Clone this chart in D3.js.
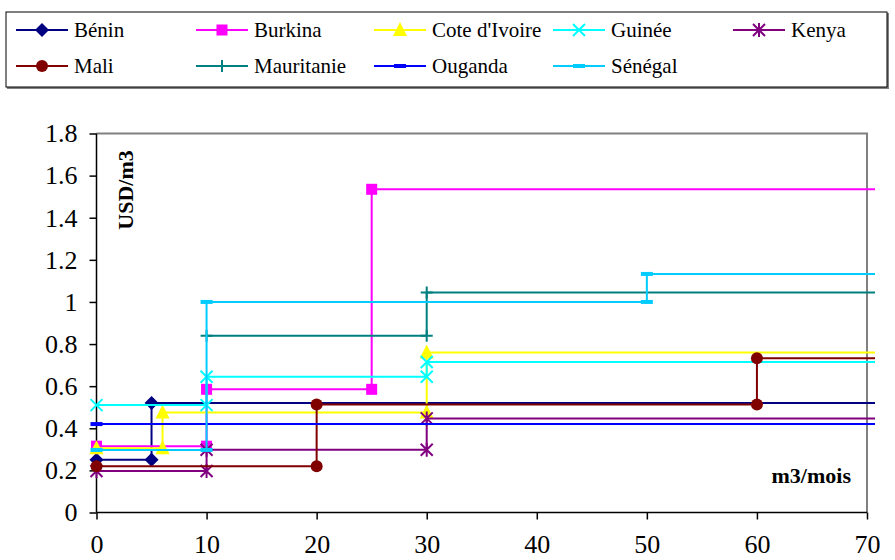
<!DOCTYPE html>
<html><head><meta charset="utf-8">
<script src="https://cdn.jsdelivr.net/npm/d3@7"></script>
<style>
html,body{margin:0;padding:0;background:#fff;}
svg text{font-family:"Liberation Serif","Times New Roman","DejaVu Serif",serif;}
</style></head>
<body>
<svg id="chart" width="895" height="560"></svg>
<script>
// ---- data ----
const countries = ["Bénin","Burkina","Cote d'Ivoire","Guinée","Kenya","Mali","Mauritanie","Ouganda","Sénégal"];
const benin      = [[0,0.25],[5,0.25],[5,0.52],[80,0.52]];
const burkina    = [[0,0.315],[10,0.315],[10,0.585],[25,0.585],[25,1.535],[80,1.535]];
const coteIvoire = [[0,0.305],[6,0.305],[6,0.475],[30,0.475],[30,0.76],[80,0.76]];
const guinee     = [[0,0.51],[10,0.51],[10,0.645],[30,0.645],[30,0.715],[80,0.715]];
const kenya      = [[0,0.197],[10,0.197],[10,0.298],[30,0.298],[30,0.447],[80,0.447]];
const mali       = [[0,0.22],[20,0.22],[20,0.513],[60,0.513],[60,0.733],[80,0.733]];
const mauritanie = [[10,0.84],[30,0.84],[30,1.045],[80,1.045]];
const ouganda    = [[0,0.42],[80,0.42]];
const senegal    = [[0,0.297],[10,0.297],[10,1.0],[50,1.0],[50,1.133],[80,1.133]];
const seriesData = [benin,burkina,coteIvoire,guinee,kenya,mali,mauritanie,ouganda,senegal];
const xTicks = [0,10,20,30,40,50,60,70];
const yTicks = [0,0.2,0.4,0.6,0.8,1,1.2,1.4,1.6,1.8];

// ---- styles ----
const FONT = "Liberation Serif, Times New Roman, DejaVu Serif, serif";
const colors  = ["#000080","#FF00FF","#FFFF00","#00FFFF","#800080","#800000","#008080","#0000FF","#00CCFF"];
const markers = ["diamond","square","triangle","x","star","circle","plus","dash","dash"];

const svg = d3.select("#chart").attr("font-family",FONT);
const L = 96.5, R = 867, T = 133.5, B = 512.5;
const x = d3.scaleLinear().domain([0,70]).range([L,R]);
const y = d3.scaleLinear().domain([0,1.8]).range([B,T]);

// plot area border (top/right gray)
svg.append("path").attr("d",`M${L},${T}H${R}V${B}`).attr("fill","none")
   .attr("stroke","#808080").attr("stroke-width",2);

// axes
const yAxis = svg.append("g").attr("transform",`translate(${L},0)`)
  .call(d3.axisLeft(y).tickValues(yTicks).tickFormat(d3.format("~g")).tickSize(7).tickPadding(12));
const xAxis = svg.append("g").attr("transform",`translate(0,${B})`)
  .call(d3.axisBottom(x).tickValues(xTicks).tickFormat(d3.format("d")).tickSize(7).tickPadding(15));
[yAxis,xAxis].forEach(a=>{
  a.attr("font-family",FONT);
  a.select(".domain").attr("stroke","#000").attr("stroke-width",1.5);
  a.selectAll(".tick line").attr("stroke","#000").attr("stroke-width",1.5);
  a.selectAll("text").attr("font-family",FONT).attr("font-size",26).attr("fill","#000");
});
yAxis.select(".domain").attr("d",`M0,${T}V${B}`);
xAxis.select(".domain").attr("d",`M${L},0H${R}`);

// axis titles
svg.append("text").attr("transform",`translate(133,190) rotate(-90)`).attr("font-family",FONT)
  .attr("text-anchor","middle").attr("font-weight","bold").attr("font-size",22).text("USD/m3");
svg.append("text").attr("x",851).attr("y",483).attr("text-anchor","end").attr("font-family",FONT)
  .attr("font-weight","bold").attr("font-size",22).text("m3/mois");

// marker drawing
function drawMarker(g, type, color, cx, cy){
  const m = g.append("g").attr("transform",`translate(${cx},${cy})`);
  switch(type){
    case "diamond": m.append("path").attr("d","M0,-7L7,0L0,7L-7,0Z").attr("fill",color); break;
    case "square": m.append("rect").attr("x",-5.5).attr("y",-5.5).attr("width",11).attr("height",11).attr("fill",color); break;
    case "triangle": m.append("path").attr("d","M0,-8L7,6L-7,6Z").attr("fill",color); break;
    case "circle": m.append("circle").attr("r",6).attr("fill",color); break;
    case "x": m.append("path").attr("d","M-6,-6L6,6M-6,6L6,-6").attr("stroke",color).attr("stroke-width",2).attr("fill","none"); break;
    case "star": m.append("path").attr("d","M-6,-6L6,6M-6,6L6,-6M0,-7V7").attr("stroke",color).attr("stroke-width",2).attr("fill","none"); break;
    case "plus": m.append("path").attr("d","M-6,0H6M0,-6V6").attr("stroke",color).attr("stroke-width",2).attr("fill","none"); break;
    case "dash": m.append("rect").attr("x",-6).attr("y",-2).attr("width",12).attr("height",4).attr("fill",color); break;
  }
}

// clip so lines run slightly past the plot frame, as in the reference
svg.append("clipPath").attr("id","clip").append("rect")
  .attr("x",L-20).attr("y",T-20).attr("width",(R-L)+28).attr("height",(B-T)+40);
const plot = svg.append("g").attr("clip-path","url(#clip)");
const line = d3.line().x(d=>x(d[0])).y(d=>y(d[1]));

seriesData.forEach((pts,i)=>{
  const g = plot.append("g");
  g.append("path").datum(pts).attr("d",line).attr("fill","none")
    .attr("stroke",colors[i]).attr("stroke-width",2);
  pts.forEach(p=>drawMarker(g, markers[i], colors[i], x(p[0]), y(p[1])));
});

// legend
const lg = svg.append("g");
lg.append("rect").attr("x",7).attr("y",13).attr("width",882).attr("height",76).attr("fill","#808080");
lg.append("rect").attr("x",6).attr("y",12).attr("width",881).attr("height",75)
  .attr("fill","#fff").attr("stroke","#000").attr("stroke-width",1);
const colX = [16,196,374,553,733];
const rowY = [30,66];
countries.forEach((name,i)=>{
  const r = Math.floor(i/5), c = i%5;
  const x0 = colX[c], yy = rowY[r];
  const item = lg.append("g");
  item.append("line").attr("x1",x0).attr("x2",x0+52).attr("y1",yy).attr("y2",yy)
    .attr("stroke",colors[i]).attr("stroke-width",2);
  drawMarker(item, markers[i], colors[i], x0+26, yy);
  item.append("text").attr("x",x0+58).attr("y",yy+7).attr("font-family",FONT).attr("font-size",21).text(name);
});
</script>
</body></html>
